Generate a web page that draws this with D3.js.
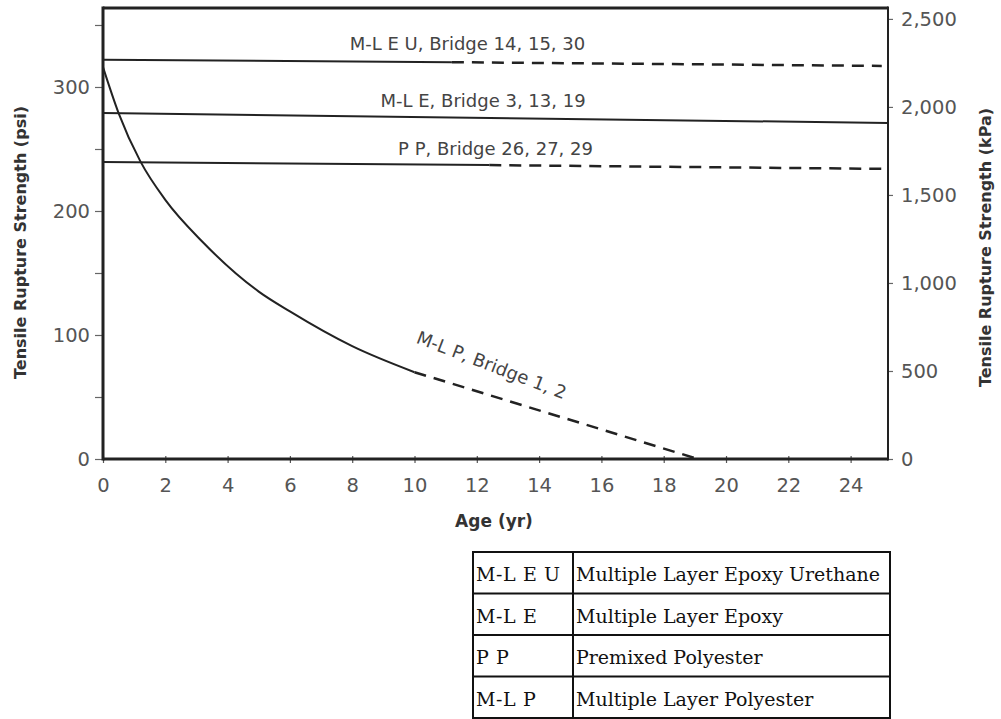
<!DOCTYPE html>
<html>
<head>
<meta charset="utf-8">
<script src="https://cdn.jsdelivr.net/npm/d3@7/dist/d3.min.js"></script>
<style>
  html, body { margin: 0; padding: 0; background: #fff; }
  svg { display: block; }
</style>
</head>
<body>
<svg id="chart" width="1001" height="719"></svg>
<script>
// ---------- data ----------
const ageTicks = [0, 2, 4, 6, 8, 10, 12, 14, 16, 18, 20, 22, 24];
const psiTicks = [0, 100, 200, 300];
const psiMinorTicks = [50, 150, 250, 350];
const kpaTicks = [0, 500, 1000, 1500, 2000, 2500];

const mleuSolid  = [[0, 322], [11.2, 320]];
const mleuDashed = [[11.2, 320], [25, 317]];
const mleSolid   = [[0, 279], [25.2, 271]];
const ppSolid    = [[0, 239.5], [12.4, 237]];
const ppDashed   = [[12.4, 237], [25, 234]];
const mlpSolid   = [[0, 316], [0.5, 279], [1.2, 240], [2, 209], [3.2, 175], [5, 135], [6, 119], [8, 91], [10, 70]];
const mlpDashed  = [[10, 70], [19.1, 0]];

const seriesLabels = [
  { text: "M-L E U, Bridge 14, 15, 30", age: 11.7, psi: 330 },
  { text: "M-L E, Bridge 3, 13, 19",    age: 12.2, psi: 284 },
  { text: "P P, Bridge 26, 27, 29",     age: 12.6, psi: 245 }
];
const mlpLabel = { text: "M-L P, Bridge 1, 2", age: 12.4, psi: 71 };

const tableRows = [
  ["M-L E U", "Multiple Layer Epoxy Urethane"],
  ["M-L E",   "Multiple Layer Epoxy"],
  ["P P",     "Premixed Polyester"],
  ["M-L P",   "Multiple Layer Polyester"]
];

// ---------- layout ----------
const svg = d3.select("#chart");
const L = 103, R = 888, T = 8, B = 459;

const x = d3.scaleLinear().domain([0, 25.2]).range([L, R]);
const y = d3.scaleLinear().domain([0, 363.7]).range([B, T]);
const y2 = d3.scaleLinear().domain([0, 2562]).range([B, T]);

const ink = "#222";
const tickColor = "#555";
const sansFont = "'DejaVu Sans', sans-serif";
const tickSize = "19.5px";

// ---------- axes ----------
const leftAxis = svg.append("g").attr("transform", `translate(${L},0)`)
  .call(d3.axisLeft(y).tickValues(psiTicks.concat(psiMinorTicks)).tickSize(8).tickPadding(5)
    .tickFormat(d => psiTicks.includes(d) ? d3.format("d")(d) : ""));
leftAxis.select(".domain").remove();
leftAxis.selectAll(".tick line").attr("stroke", "#666").attr("stroke-width", 1.2);
leftAxis.selectAll(".tick text").attr("fill", tickColor).style("font-family", sansFont).style("font-size", tickSize);

const rightAxis = svg.append("g").attr("transform", `translate(${R},0)`)
  .call(d3.axisRight(y2).tickValues(kpaTicks).tickSize(5).tickPadding(8).tickFormat(d3.format(",")));
rightAxis.select(".domain").remove();
rightAxis.selectAll(".tick line").attr("stroke", "#666").attr("stroke-width", 1.2);
rightAxis.selectAll(".tick text").attr("fill", tickColor).style("font-family", sansFont).style("font-size", tickSize);

const bottomAxis = svg.append("g").attr("transform", `translate(0,${B + 4})`)
  .call(d3.axisBottom(x).tickValues(ageTicks).tickSize(-7).tickPadding(15).tickFormat(d3.format("d")));
bottomAxis.select(".domain").remove();
bottomAxis.selectAll(".tick line").attr("stroke", "#555").attr("stroke-width", 1.2);
bottomAxis.selectAll(".tick text").attr("fill", tickColor).style("font-family", sansFont).style("font-size", tickSize);

// frame
svg.append("line").attr("x1", L).attr("x2", R).attr("y1", T).attr("y2", T).attr("stroke", ink).attr("stroke-width", 3);
svg.append("line").attr("x1", L).attr("x2", R).attr("y1", B).attr("y2", B).attr("stroke", ink).attr("stroke-width", 3);
svg.append("line").attr("x1", L).attr("x2", L).attr("y1", T - 1.5).attr("y2", B + 1.5).attr("stroke", ink).attr("stroke-width", 3);
svg.append("line").attr("x1", R).attr("x2", R).attr("y1", T - 1.5).attr("y2", B + 1.5).attr("stroke", ink).attr("stroke-width", 2);

// ---------- lines ----------
const line = d3.line().x(d => x(d[0])).y(d => y(d[1]));
const curve = d3.line().x(d => x(d[0])).y(d => y(d[1])).curve(d3.curveMonotoneX);

function drawSolid(data, gen) {
  svg.append("path").datum(data).attr("d", gen || line)
    .attr("fill", "none").attr("stroke", ink).attr("stroke-width", 2);
}
function drawDashed(data) {
  svg.append("path").datum(data).attr("d", line)
    .attr("fill", "none").attr("stroke", ink).attr("stroke-width", 2.5)
    .attr("stroke-dasharray", "12,8");
}
drawSolid(mleuSolid); drawDashed(mleuDashed);
drawSolid(mleSolid);
drawSolid(ppSolid); drawDashed(ppDashed);
drawSolid(mlpSolid, curve); drawDashed(mlpDashed);

// ---------- in-plot labels ----------
svg.selectAll("text.slabel").data(seriesLabels).enter().append("text")
  .attr("class", "slabel")
  .attr("x", d => x(d.age)).attr("y", d => y(d.psi))
  .attr("text-anchor", "middle")
  .attr("fill", "#444")
  .style("font-family", sansFont).style("font-size", "18px")
  .text(d => d.text);

svg.append("text")
  .attr("transform", `translate(${x(mlpLabel.age)},${y(mlpLabel.psi)}) rotate(21)`)
  .attr("text-anchor", "middle")
  .attr("fill", "#444")
  .style("font-family", sansFont).style("font-size", "18px")
  .text(mlpLabel.text);

// ---------- axis titles ----------
const titleFont = "'DejaVu Sans', sans-serif";
svg.append("text")
  .attr("transform", `translate(26,${(T + B) / 2 + 9}) rotate(-90)`)
  .attr("text-anchor", "middle").attr("fill", "#333")
  .style("font-family", titleFont).style("font-weight", "bold").style("font-size", "16px")
  .text("Tensile Rupture Strength (psi)");
svg.append("text")
  .attr("transform", `translate(991,${(T + B) / 2 + 14}) rotate(-90)`)
  .attr("text-anchor", "middle").attr("fill", "#333")
  .style("font-family", titleFont).style("font-weight", "bold").style("font-size", "16px")
  .text("Tensile Rupture Strength (kPa)");
svg.append("text")
  .attr("x", 494).attr("y", 527)
  .attr("text-anchor", "middle").attr("fill", "#333")
  .style("font-family", titleFont).style("font-weight", "bold").style("font-size", "17px")
  .text("Age (yr)");

// ---------- table ----------
const tL = 473, tM = 573, tR = 890, tT = 552, rowH = 41.5;
const tb = svg.append("g");
tb.append("rect").attr("x", tL).attr("y", tT).attr("width", tR - tL).attr("height", rowH * tableRows.length)
  .attr("fill", "none").attr("stroke", "#111").attr("stroke-width", 2);
tb.append("line").attr("x1", tM).attr("x2", tM).attr("y1", tT).attr("y2", tT + rowH * tableRows.length)
  .attr("stroke", "#111").attr("stroke-width", 2);
tableRows.forEach((r, i) => {
  if (i > 0) tb.append("line").attr("x1", tL).attr("x2", tR).attr("y1", tT + rowH * i).attr("y2", tT + rowH * i)
    .attr("stroke", "#111").attr("stroke-width", 2);
  tb.append("text").attr("x", tL + 3).attr("y", tT + rowH * i + 29)
    .attr("fill", "#111").style("font-family", "'DejaVu Serif', serif").style("font-size", "19px")
    .style("letter-spacing", "0.6px").text(r[0]);
  tb.append("text").attr("x", tM + 3).attr("y", tT + rowH * i + 29)
    .attr("fill", "#111").style("font-family", "'DejaVu Serif', serif").style("font-size", "19px").text(r[1]);
});
</script>
</body>
</html>
